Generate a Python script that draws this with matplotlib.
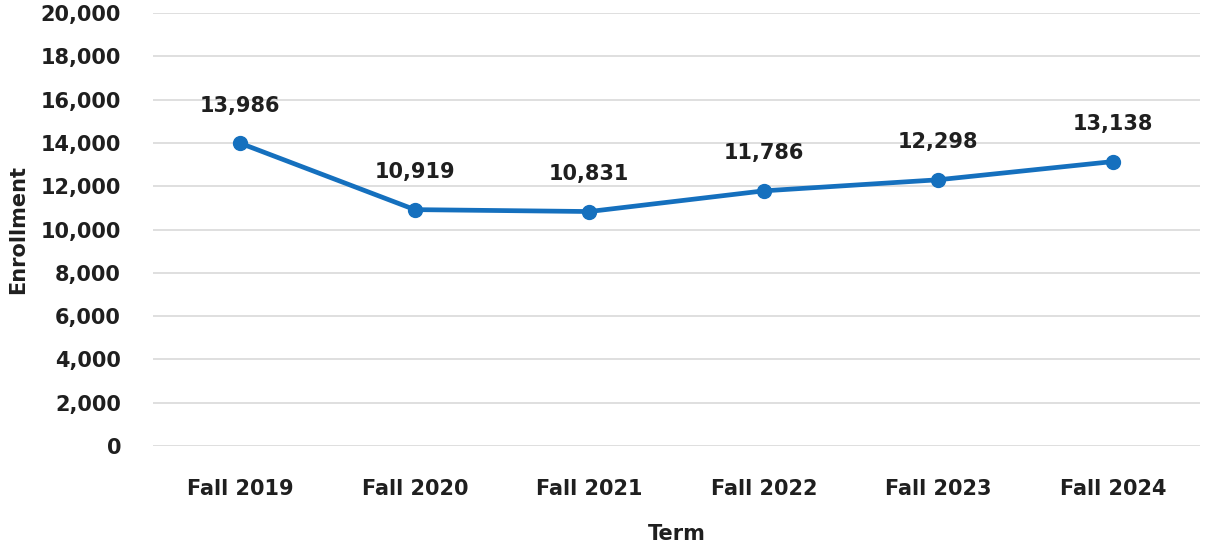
import matplotlib
matplotlib.use("Agg")
import matplotlib.pyplot as plt
from matplotlib.ticker import FuncFormatter

terms = ["Fall 2019", "Fall 2020", "Fall 2021", "Fall 2022", "Fall 2023", "Fall 2024"]
enrollment = [13986, 10919, 10831, 11786, 12298, 13138]
y_ticks = list(range(0, 20001, 2000))

plt.rcParams['font.family'] = ['DejaVu Sans']
fs = 15
txt_col = '#1f1f1f'

fig = plt.figure(figsize=(12.07, 5.47), dpi=100)
ax = fig.add_axes([0.1268, 0.1846, 0.8674, 0.7916])

x = list(range(len(terms)))
ax.plot(x, enrollment, color='#1570be', lw=3.4, marker='o', ms=10,
        solid_capstyle='round', zorder=3)

for xi, v in zip(x, enrollment):
    ax.annotate(f"{v:,}", (xi, v), xytext=(0, 27), textcoords='offset points',
                ha='center', va='center', fontsize=fs, fontweight='bold',
                color=txt_col)

ax.set_xlim(-0.5, len(terms) - 0.5)
ax.set_ylim(0, 20000)
ax.set_yticks(y_ticks)
ax.yaxis.set_major_formatter(FuncFormatter(lambda v, p: f"{int(v):,}"))
ax.set_xticks(x)
ax.set_xticklabels(terms)

for lab in ax.get_xticklabels() + ax.get_yticklabels():
    lab.set_fontweight('bold')
    lab.set_fontsize(fs)
    lab.set_color(txt_col)

ax.tick_params(axis='y', length=0, pad=23)
ax.tick_params(axis='x', length=0, pad=23.5)
ax.grid(axis='y', color='#d9d9d9', lw=1.2)
ax.set_axisbelow(True)
for s in ax.spines.values():
    s.set_visible(False)

ax.set_xlabel("Term", fontsize=fs, fontweight='bold', color=txt_col, labelpad=18)
ax.set_ylabel("Enrollment", fontsize=fs, fontweight='bold', color=txt_col, labelpad=9)

fig.savefig("out.png", dpi=100)
